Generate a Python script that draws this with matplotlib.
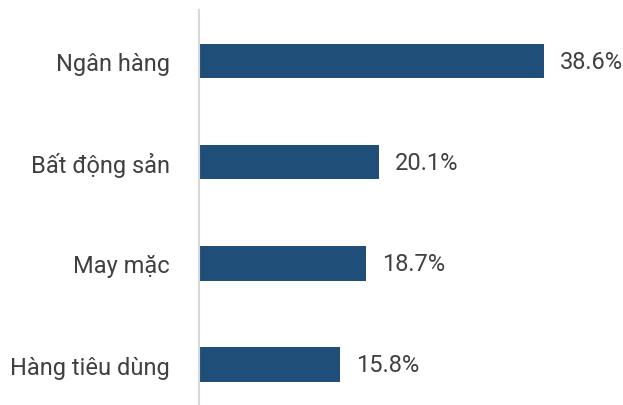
import matplotlib
matplotlib.use('Agg')
from matplotlib import pyplot as plt

# Data
categories = ['Ngân hàng', 'Bất động sản', 'May mặc', 'Hàng tiêu dùng']
values = [38.6, 20.1, 18.7, 15.8]
value_labels = ['38.6%', '20.1%', '18.7%', '15.8%']

bar_color = '#1F4E79'
text_color = '#404040'

plt.rcParams['font.family'] = ['Roboto', 'DejaVu Sans']

fig = plt.figure(figsize=(6.23, 4.06), dpi=100)
ax = fig.add_axes([199 / 623, 1 / 406, 424 / 623, 394 / 406])

pos = list(range(len(categories)))
ax.barh(pos, values, height=0.34, color=bar_color)

for y, v, lab in zip(pos, values, value_labels):
    ax.annotate(lab, (v, y), xytext=(11.5, 0), textcoords='offset points',
                va='center', ha='left', fontsize=17, color=text_color)

ax.set_yticks(pos)
ax.set_yticklabels(categories, fontsize=17, color=text_color)
ax.tick_params(axis='y', length=0, pad=21)
ax.set_xticks([])
ax.set_xlim(0, 47.4)
ax.set_ylim(3.39, -0.505)

for side in ['top', 'right', 'bottom']:
    ax.spines[side].set_visible(False)
ax.spines['left'].set_color('#D9D9D9')
ax.spines['left'].set_linewidth(1.5)

fig.savefig('out.png', dpi=100)
